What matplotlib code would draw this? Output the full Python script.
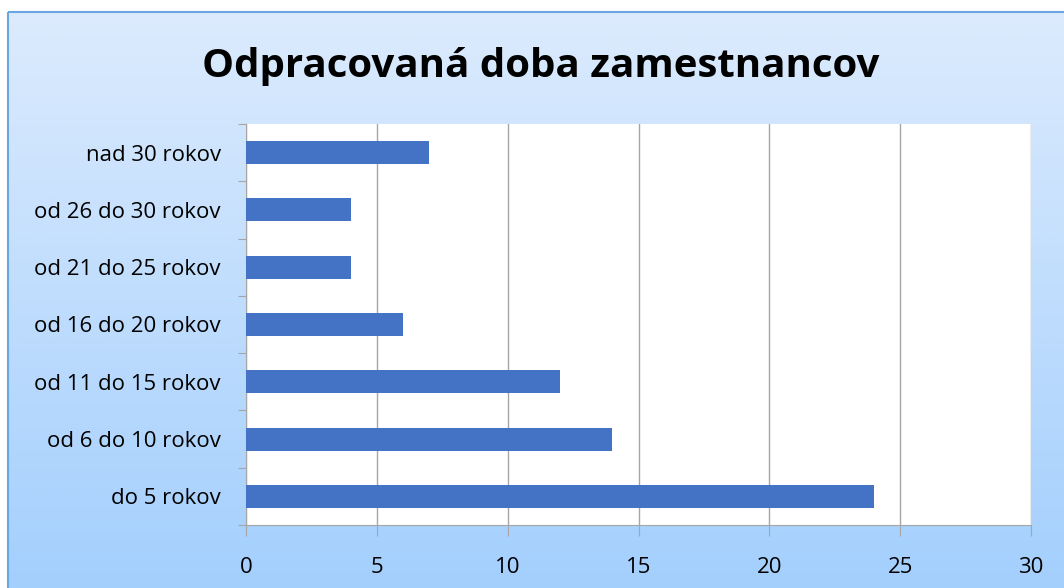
import numpy as np
import matplotlib
matplotlib.use('Agg')
from matplotlib import pyplot as plt
from matplotlib.colors import LinearSegmentedColormap
from matplotlib.patches import Rectangle

categories = ['do 5 rokov', 'od 6 do 10 rokov', 'od 11 do 15 rokov',
              'od 16 do 20 rokov', 'od 21 do 25 rokov', 'od 26 do 30 rokov',
              'nad 30 rokov']
values = [24, 14, 12, 6, 4, 4, 7]
x_ticks = [0, 5, 10, 15, 20, 25, 30]

plt.rcParams['font.family'] = ['Open Sans', 'DejaVu Sans']

W, H = 1064, 588
fig = plt.figure(figsize=(W / 100, H / 100), dpi=100)

# pozadie s gradientom
bg = fig.add_axes([0, 0, 1, 1])
bg.axis('off')
cmap = LinearSegmentedColormap.from_list('bg', ['#dcebfd', '#a3cffd'])
grad = np.linspace(0, 1, 256).reshape(-1, 1)
bg.imshow(grad, cmap=cmap, aspect='auto', extent=[8, W + 5, H + 5, 12])
bg.add_patch(Rectangle((8, 12), W, H, fill=False, edgecolor='#6aa6e0', lw=1.5))
bg.set_xlim(0, W)
bg.set_ylim(H, 0)

ax = fig.add_axes([246 / W, 1 - 525 / H, (1031 - 246) / W, (525 - 124) / H])
ax.set_facecolor('white')
pos = np.arange(len(categories))
ax.barh(pos, values, height=0.4, color='#4472c4', zorder=3)

ax.set_xlim(0, 30)
ax.set_ylim(-0.5, len(categories) - 0.5)
ax.set_xticks(x_ticks)
ax.set_xticklabels([str(t) for t in x_ticks], fontsize=16)
ax.xaxis.grid(True, color='#a6a6a6', lw=1, zorder=0)
ax.tick_params(axis='x', length=8, color='#a6a6a6', pad=15)

ax.set_yticks(np.arange(-0.5, len(categories), 1))
ax.set_yticklabels([])
ax.set_yticks(pos, minor=True)
ax.set_yticklabels(categories, minor=True, fontsize=16)
ax.tick_params(axis='y', which='major', length=6, color='#a6a6a6')
ax.tick_params(axis='y', which='minor', length=0, pad=18)

for s in ['top', 'right']:
    ax.spines[s].set_visible(False)
ax.spines['left'].set_color('#a6a6a6')
ax.spines['bottom'].set_color('#a6a6a6')

fig.text(541 / W, 1 - 66 / H, 'Odpracovaná doba zamestnancov', ha='center',
         va='center', fontsize=29, fontweight='bold')

fig.savefig('out.png', dpi=100)
